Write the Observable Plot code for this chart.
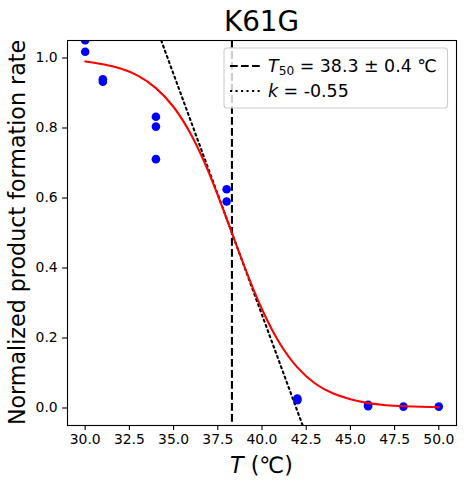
<!DOCTYPE html>
<html><head><meta charset="utf-8">
<script src="https://cdn.jsdelivr.net/npm/d3@7"></script>
<script src="https://cdn.jsdelivr.net/npm/@observablehq/plot@0.6"></script>
<style>body{margin:0;background:#fff;font-family:"DejaVu Sans";}</style>
</head><body><div id="chart"></div>
<script>
// Measured points (temperature, normalized rate)
const tempPoints = [30, 30, 31, 31, 34, 34, 34, 38, 38, 42, 42, 46, 46, 48, 50];
const ratePoints = [1.051, 1.018, 0.939, 0.932, 0.832, 0.804, 0.711, 0.625, 0.590, 0.027, 0.022, 0.009, 0.005, 0.004, 0.004];
// Fitted sigmoid curve
const fitT = [30, 31, 32, 33, 34, 35, 36, 37, 38, 39, 40, 41, 42, 43, 44, 45, 46, 47, 48, 50];
const fitY = [0.990, 0.982, 0.970, 0.949, 0.914, 0.860, 0.780, 0.672, 0.541, 0.405, 0.282, 0.185, 0.116, 0.070, 0.042, 0.025, 0.014, 0.008, 0.005, 0.002];
// Tangent line at T50 (slope k/4)
const tangentT = [34.3, 42.3];
const tangentY = [1.05, -0.05];
const T50 = 38.3;
const xTicks = [30, 32.5, 35, 37.5, 40, 42.5, 45, 47.5, 50];
const yTicks = [0, 0.2, 0.4, 0.6, 0.8, 1.0];
const title = "K61G";
const yLabel = "Normalized product formation rate";

const pts = tempPoints.map((t, i) => ({t, r: ratePoints[i]}));
const fit = fitT.map((t, i) => ({t, y: fitY[i]}));
const tan = tangentT.map((t, i) => ({t, y: tangentY[i]}));

const W = 464, H = 487, mL = 67, mR = 8, mT = 40, mB = 62;
const LW = 2.08;
const DASH = "7.7,3.3", DOT = "2.08,3.43";
const plot = Plot.plot({
  width: W, height: H,
  marginLeft: mL, marginRight: mR, marginTop: mT, marginBottom: mB,
  style: {fontFamily: "DejaVu Sans", fontSize: "13.9px", color: "#000", background: "#fff"},
  x: {domain: [29, 51]},
  y: {domain: [-0.05, 1.05]},
  marks: [
    Plot.axisX({ticks: xTicks, tickFormat: d3.format(".1f"), tickSize: 4.9, tickPadding: 3.5, label: null, fontSize: 13.9, strokeWidth: 1.1}),
    Plot.axisY({ticks: yTicks, tickFormat: d3.format(".1f"), tickSize: 4.9, tickPadding: 4.9, label: null, fontSize: 13.9, strokeWidth: 1.1}),
    Plot.line(tan, {x: "t", y: "y", stroke: "#000", strokeWidth: LW, strokeDasharray: DOT, clip: "frame"}),
    Plot.ruleX([T50], {stroke: "#000", strokeWidth: LW, strokeDasharray: DASH}),
    Plot.dot(pts, {x: "t", y: "r", r: 4.3, fill: "#0000ff", stroke: null, clip: "frame"}),
    Plot.line(fit, {x: "t", y: "y", stroke: "#ff0000", strokeWidth: LW, curve: "natural"}),
    Plot.frame({stroke: "#000", strokeWidth: 1.1})
  ]
});
document.getElementById("chart").appendChild(plot);

const svg = d3.select(plot);
const cx = (mL + (W - mR)) / 2;
svg.append("text").attr("x", cx).attr("y", 31).attr("text-anchor", "middle")
  .attr("font-size", "27.8px").attr("fill", "#000").text(title);

const xl = svg.append("text").attr("x", cx).attr("y", 473).attr("text-anchor", "middle")
  .attr("font-size", "22.2px").attr("fill", "#000");
xl.append("tspan").attr("font-style", "italic").text("T");
xl.append("tspan").text(" (℃)");

svg.append("text").attr("transform", `translate(25,${(mT + H - mB) / 2}) rotate(-90)`)
  .attr("text-anchor", "middle").attr("font-size", "22.2px").attr("fill", "#000").text(yLabel);

// Legend
const lg = svg.append("g");
lg.append("rect").attr("x", 224).attr("y", 48).attr("width", 223.5).attr("height", 60).attr("rx", 3)
  .attr("fill", "#fff").attr("fill-opacity", 0.8).attr("stroke", "#cccccc").attr("stroke-width", 1.1);
lg.append("line").attr("x1", 230).attr("x2", 263).attr("y1", 66).attr("y2", 66)
  .attr("stroke", "#000").attr("stroke-width", LW).attr("stroke-dasharray", DASH);
lg.append("line").attr("x1", 230).attr("x2", 263).attr("y1", 91).attr("y2", 91)
  .attr("stroke", "#000").attr("stroke-width", LW).attr("stroke-dasharray", DOT);
const t1 = lg.append("text").attr("x", 268).attr("y", 72).attr("text-anchor", "start")
  .attr("font-size", "17.4px").attr("fill", "#000");
t1.append("tspan").attr("font-style", "italic").text("T");
t1.append("tspan").attr("font-size", "12.2px").attr("dy", 2.5).text("50");
t1.append("tspan").attr("dy", -2.5).text(" = 38.3 ± 0.4 ℃");
const t2 = lg.append("text").attr("x", 268).attr("y", 97).attr("text-anchor", "start")
  .attr("font-size", "17.4px").attr("fill", "#000");
t2.append("tspan").attr("font-style", "italic").text("k");
t2.append("tspan").text(" = -0.55");
</script></body></html>
